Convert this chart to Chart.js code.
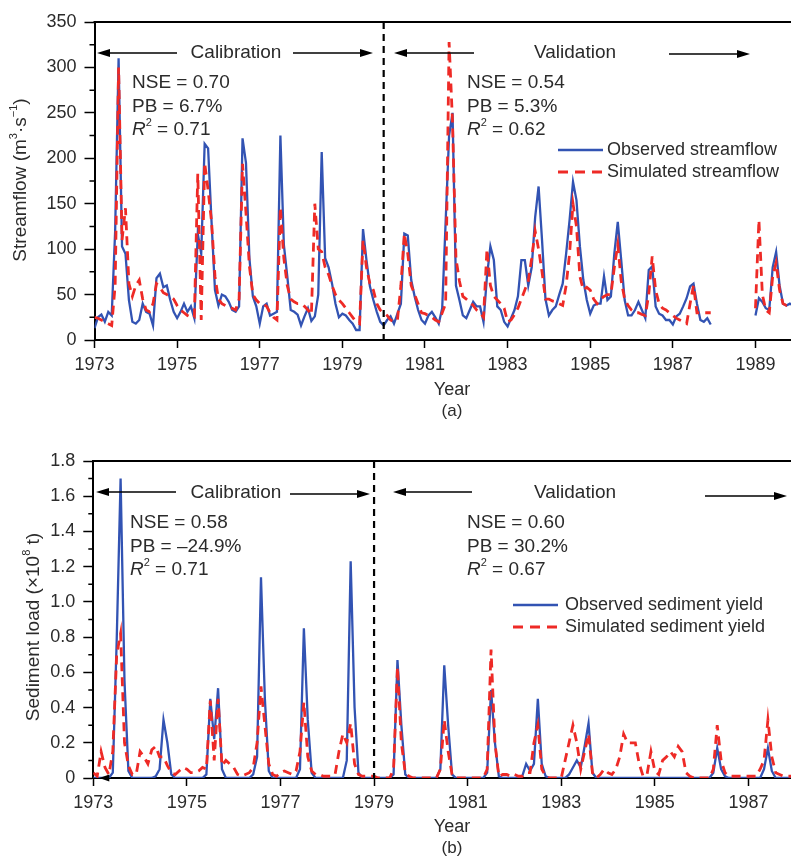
<!DOCTYPE html>
<html>
<head>
<meta charset="utf-8">
<script src="https://cdn.jsdelivr.net/npm/chart.js@4.4.1/dist/chart.umd.min.js"></script>
<style>
  html, body { margin: 0; padding: 0; background: #fff; }
  #wrap { position: relative; width: 791px; height: 860px; overflow: hidden; }
  .panel { position: absolute; left: 0; width: 791px; height: 430px; }
  #panelA { top: 0; }
  #panelB { top: 430px; }
</style>
</head>
<body>
<div id="wrap">
  <div class="panel" id="panelA"><canvas id="chartA" width="791" height="430"></canvas></div>
  <div class="panel" id="panelB"><canvas id="chartB" width="791" height="430"></canvas></div>
</div>
<script>
/* ---------- data (monthly values, Jan 1973 onwards) ---------- */
const FIRST_YEAR = 1973;

// streamflow, m3/s
const flowObserved = [
  13, 25, 28, 20, 31, 27, 120, 310, 103, 95, 44, 20,      // 1973
  18, 22, 40, 31, 29, 16, 68, 73, 58, 60, 44, 31,         // 1974
  24, 31, 40, 31, 37, 24, 117, 95, 216, 211, 130, 55,     // 1975
  38, 50, 48, 42, 33, 31, 37, 222, 195, 90, 48, 37,       // 1976
  18, 37, 40, 27, 29, 31, 225, 105, 70, 33, 31, 28,       // 1977
  16, 26, 35, 21, 26, 50, 207, 90, 80, 62, 40, 25,        // 1978
  29, 27, 22, 18, 11, 11, 122, 88, 59, 44, 31, 20,        // 1979
  16, 22, 26, 18, 29, 40, 117, 115, 66, 48, 33, 22,       // 1980
  18, 27, 31, 25, 18, 35, 130, 225, 250, 60, 44, 27,      // 1981
  24, 33, 42, 37, 37, 20, 70, 103, 88, 37, 33, 20,        // 1982
  15, 24, 33, 48, 88, 88, 60, 80, 135, 169, 110, 45,      // 1983
  27, 33, 37, 50, 62, 95, 132, 174, 154, 103, 66, 44,     // 1984
  29, 38, 40, 40, 70, 44, 48, 95, 130, 88, 44, 27,        // 1985
  27, 33, 42, 33, 24, 77, 81, 37, 29, 27, 22, 22,         // 1986
  17, 26, 29, 37, 46, 59, 62, 40, 22, 20, 24, 17,         // 1987
  null, null, null, null, null, null, null, null, null, null, null, null, // 1988
  27, 46, 42, 35, 33, 80, 97, 60, 40, 38, 40, 38          // 1989
];
const flowSimulated = [
  25, 24, 22, 20, 18, 16, 60, 300, 110, 145, 62, 48,      // 1973
  60, 66, 45, 33, 31, 40, 62, 58, 52, 50, 48, 45,         // 1974
  38, 33, 30, 27, 25, 25, 183, 22, 195, 165, 130, 70,     // 1975
  45, 40, 38, 36, 35, 33, 45, 194, 140, 81, 50, 44,       // 1976
  40, 40, 37, 30, 25, 22, 146, 90, 60, 45, 42, 40,        // 1977
  40, 37, 33, 28, 150, 100, 97, 80, 72, 60, 50, 44,       // 1978
  40, 35, 30, 25, 20, 18, 110, 80, 62, 55, 40, 33,        // 1979
  30, 27, 22, 20, 22, 60, 117, 95, 60, 50, 40, 30,        // 1980
  29, 27, 25, 22, 20, 30, 40, 328, 240, 90, 65, 48,       // 1981
  45, 42, 38, 33, 30, 25, 100, 60, 48, 44, 40, 35,        // 1982
  20, 22, 28, 35, 45, 55, 65, 90, 120, 100, 75, 45,       // 1983
  45, 43, 42, 40, 38, 60, 95, 150, 125, 70, 55, 58,       // 1984
  55, 45, 40, 45, 48, 50, 50, 80, 105, 65, 45, 38,        // 1985
  33, 30, 30, 28, 27, 50, 92, 55, 40, 35, 33, 30,         // 1986
  27, 24, 22, 20, 18, 40, 60, 30, 30, 30, 30, 30,         // 1987
  null, null, null, null, null, null, null, null, null, null, null, null, // 1988
  35, 132, 50, 33, 30, 70, 85, 55, 40, 38, 40, 40         // 1989
];

// sediment load, 10^8 t
const sedObserved = [
  0, 0, 0, 0, 0, 0.03, 0.78, 1.70, 0.55, 0.04, 0, 0,      // 1973
  0, 0, 0, 0, 0.01, 0.05, 0.33, 0.20, 0.02, 0, 0, 0,      // 1974
  0, 0, 0, 0, 0, 0.02, 0.45, 0.22, 0.51, 0.05, 0, 0,      // 1975
  0, 0, 0, 0, 0, 0.02, 0.12, 1.14, 0.45, 0.04, 0, 0,      // 1976
  0, 0, 0, 0, 0, 0.05, 0.85, 0.33, 0.03, 0, 0, 0,         // 1977
  0, 0, 0, 0, 0, 0.10, 1.23, 0.40, 0.03, 0, 0, 0,         // 1978
  0, 0, 0, 0, 0, 0.02, 0.67, 0.30, 0.02, 0, 0, 0,         // 1979
  0, 0, 0, 0, 0, 0.05, 0.64, 0.30, 0.02, 0, 0, 0,         // 1980
  0, 0, 0, 0, 0, 0.03, 0.50, 0.20, 0.01, 0, 0, 0,         // 1981
  0, 0, 0.01, 0.08, 0.04, 0.08, 0.45, 0.08, 0.01, 0, 0, 0, // 1982
  0, 0, 0.02, 0.06, 0.10, 0.06, 0.18, 0.31, 0.03, 0, 0, 0, // 1983
  0, 0, 0, 0, 0, 0, 0, 0, 0, 0, 0, 0,                     // 1984
  0, 0, 0, 0, 0, 0, 0, 0, 0, 0, 0, 0,                     // 1985
  0, 0, 0, 0.03, 0.17, 0.05, 0.01, 0, 0, 0, 0, 0,         // 1986
  0, 0, 0, 0, 0.05, 0.17, 0.04, 0, 0, 0, 0, 0             // 1987
];
const sedSimulated = [
  0.03, 0.01, 0.15, 0.06, 0.02, 0.15, 0.70, 0.82, 0.20, 0.07, 0.02, 0.02, // 1973
  0.15, 0.12, 0.08, 0.16, 0.18, 0.12, 0.12, 0.07, 0.03, 0.02, 0.04, 0.06, // 1974
  0.05, 0.03, 0.03, 0.04, 0.06, 0.05, 0.44, 0.10, 0.45, 0.07, 0.10, 0.08, // 1975
  0.06, 0.02, 0.01, 0.02, 0.03, 0.06, 0.20, 0.52, 0.30, 0.08, 0.02, 0.01, // 1976
  0.03, 0.04, 0.03, 0.02, 0.04, 0.15, 0.43, 0.12, 0.04, 0.02, 0.02, 0.01, // 1977
  0.01, 0.01, 0.02, 0.15, 0.25, 0.20, 0.31, 0.08, 0.02, 0.01, 0.01, 0.01, // 1978
  0.01, 0, 0, 0, 0, 0.05, 0.63, 0.20, 0.03, 0.01, 0, 0,                   // 1979
  0, 0, 0, 0, 0, 0.05, 0.33, 0.15, 0.02, 0, 0, 0,                         // 1980
  0, 0, 0, 0, 0, 0.05, 0.73, 0.20, 0.01, 0.02, 0.02, 0.01,                // 1981
  0.02, 0.01, 0.01, 0.03, 0.03, 0.20, 0.30, 0.05, 0.01, 0, 0, 0,          // 1982
  0, 0.10, 0.20, 0.30, 0.20, 0.05, 0.15, 0.25, 0.03, 0, 0.02, 0.05,       // 1983
  0.03, 0.02, 0.05, 0.12, 0.25, 0.20, 0.20, 0.20, 0.08, 0.01, 0.02, 0.15, // 1984
  0.04, 0.02, 0.10, 0.12, 0.15, 0.12, 0.18, 0.15, 0.03, 0.01, 0, 0,       // 1985
  0, 0, 0, 0.05, 0.30, 0.10, 0.03, 0.01, 0.01, 0.01, 0.01, 0.01,          // 1986
  0.01, 0.01, 0.01, 0.05, 0.10, 0.33, 0.12, 0.03, 0.02, 0.01, 0.01, 0.01  // 1987
];

// ticks
const flowYTicks = [0, 50, 100, 150, 200, 250, 300, 350];
const sedYTicks = [0, 0.2, 0.4, 0.6, 0.8, 1.0, 1.2, 1.4, 1.6, 1.8];
const flowYearTicks = [1973, 1975, 1977, 1979, 1981, 1983, 1985, 1987, 1989];
const sedYearTicks = [1973, 1975, 1977, 1979, 1981, 1983, 1985, 1987];

/* ---------- styling ---------- */
const FONT = '"Liberation Sans", Arial, sans-serif';
const TEXT = "#2b2b2b";
const BLUE = "#3253b3";
const RED = "#ee2a26";

const toPoints = arr => arr.map((v, i) => ({ x: FIRST_YEAR + i / 12, y: v }));

/* ---------- drawing helpers ---------- */
function fontFor(p, size) {
  const s = p.sup ? Math.round(size * 0.6) : size;
  return `${p.italic ? "italic " : ""}${s}px ${FONT}`;
}

// text made of pieces, some italic or superscript
function drawRich(ctx, parts, x, y, size, align) {
  let w = 0;
  parts.forEach(p => { ctx.font = fontFor(p, size); w += ctx.measureText(p.t).width; });
  let cx = align === "center" ? x - w / 2 : x;
  ctx.textAlign = "left";
  ctx.textBaseline = "middle";
  parts.forEach(p => {
    ctx.font = fontFor(p, size);
    ctx.fillText(p.t, cx, p.sup ? y - size * 0.36 : y);
    cx += ctx.measureText(p.t).width;
  });
}

function arrow(ctx, xFrom, xTo, y) {
  const dir = Math.sign(xTo - xFrom);
  ctx.save();
  ctx.strokeStyle = "#000";
  ctx.fillStyle = "#000";
  ctx.lineWidth = 1.6;
  ctx.beginPath();
  ctx.moveTo(xFrom, y);
  ctx.lineTo(xTo - dir * 8, y);
  ctx.stroke();
  ctx.beginPath();
  ctx.moveTo(xTo, y);
  ctx.lineTo(xTo - dir * 13, y - 4);
  ctx.lineTo(xTo - dir * 13, y + 4);
  ctx.closePath();
  ctx.fill();
  ctx.restore();
}

/* ---------- decoration plugin (frame, labels, legend) ---------- */
function decor(cfg) {
  return {
    id: "decor" + cfg.tag,
    afterDraw(chart) {
      const { ctx, chartArea: a, scales } = chart;
      ctx.save();

      // top frame line
      ctx.strokeStyle = "#000";
      ctx.lineWidth = 2;
      ctx.beginPath();
      ctx.moveTo(a.left - 1, a.top);
      ctx.lineTo(a.right, a.top);
      ctx.stroke();

      // minor y ticks
      ctx.lineWidth = 1.5;
      ctx.beginPath();
      for (let i = 0; i < cfg.yTicks.length - 1; i++) {
        const y = scales.y.getPixelForValue((cfg.yTicks[i] + cfg.yTicks[i + 1]) / 2);
        ctx.moveTo(a.left, y);
        ctx.lineTo(a.left - 5, y);
      }
      ctx.stroke();

      // calibration / validation split
      const xs = scales.x.getPixelForValue(cfg.split);
      ctx.setLineDash([7, 5]);
      ctx.lineWidth = 2.2;
      ctx.beginPath();
      ctx.moveTo(xs, a.top);
      ctx.lineTo(xs, a.bottom);
      ctx.stroke();
      ctx.setLineDash([]);

      // period labels + arrows
      ctx.fillStyle = TEXT;
      drawRich(ctx, [{ t: "Calibration" }], 236, cfg.periodY, 19, "center");
      drawRich(ctx, [{ t: "Validation" }], 575, cfg.periodY, 19, "center");
      cfg.arrows.forEach(r => arrow(ctx, r[0], r[1], r[2]));

      // statistics
      cfg.stats.forEach(s => {
        s.lines.forEach((ln, i) => {
          ctx.fillStyle = TEXT;
          drawRich(ctx, ln, s.x, s.y + i * 23.5, 19, "left");
        });
      });

      // legend
      const L = cfg.legend;
      ctx.lineWidth = 2.3;
      ctx.strokeStyle = BLUE;
      ctx.beginPath();
      ctx.moveTo(L.x1, L.y);
      ctx.lineTo(L.x2, L.y);
      ctx.stroke();
      ctx.strokeStyle = RED;
      ctx.lineWidth = 2.8;
      ctx.setLineDash([10, 7]);
      ctx.beginPath();
      ctx.moveTo(L.x1, L.y + 22);
      ctx.lineTo(L.x2, L.y + 22);
      ctx.stroke();
      ctx.setLineDash([]);
      ctx.fillStyle = TEXT;
      drawRich(ctx, [{ t: L.obs }], L.tx, L.y, 18, "left");
      drawRich(ctx, [{ t: L.sim }], L.tx, L.y + 22, 18, "left");

      // axis titles
      ctx.save();
      ctx.translate(cfg.yTitleX, cfg.yTitleY);
      ctx.rotate(-Math.PI / 2);
      drawRich(ctx, cfg.yTitle, 0, 0, 19, "center");
      ctx.restore();
      drawRich(ctx, [{ t: "Year" }], 452, cfg.yearY, 18, "center");
      drawRich(ctx, [{ t: cfg.tag }], 452, cfg.yearY + 21, 17, "center");

      if (cfg.cornerArrow) {
        ctx.fillStyle = "#000";
        ctx.beginPath();
        ctx.moveTo(a.left + 6, a.bottom);
        ctx.lineTo(a.left + 16, a.bottom - 3.5);
        ctx.lineTo(a.left + 16, a.bottom + 3.5);
        ctx.closePath();
        ctx.fill();
      }
      ctx.restore();
    }
  };
}

/* ---------- chart factory ---------- */
function makeChart(id, cfg) {
  return new Chart(document.getElementById(id), {
    type: "line",
    data: {
      datasets: [
        {
          label: cfg.legend.obs,
          data: toPoints(cfg.obs),
          borderColor: BLUE,
          borderWidth: 2.3,
          pointRadius: 0,
          tension: 0,
          spanGaps: false,
          order: 1
        },
        {
          label: cfg.legend.sim,
          data: toPoints(cfg.sim),
          borderColor: RED,
          borderWidth: 2.8,
          borderDash: [9, 6],
          pointRadius: 0,
          tension: 0,
          spanGaps: false,
          order: 0
        }
      ]
    },
    options: {
      responsive: false,
      animation: false,
      devicePixelRatio: 1,
      layout: { padding: { top: cfg.top, left: 0, right: 0, bottom: 0 } },
      plugins: { legend: { display: false }, tooltip: { enabled: false } },
      scales: {
        x: {
          type: "linear",
          min: FIRST_YEAR,
          max: cfg.xMax,
          afterBuildTicks: s => { s.ticks = cfg.xTicks.map(v => ({ value: v })); },
          afterFit: s => { s.height = cfg.xAxisHeight; },
          ticks: {
            callback: v => String(v),
            font: { family: FONT, size: 18 },
            color: TEXT,
            padding: 6,
            maxRotation: 0,
            autoSkip: false
          },
          grid: { drawOnChartArea: false, tickLength: 8, tickColor: "#000", tickWidth: 1.5 },
          border: { color: "#000", width: 2 }
        },
        y: {
          type: "linear",
          min: 0,
          max: cfg.yMax,
          afterBuildTicks: s => { s.ticks = cfg.yTicks.map(v => ({ value: v })); },
          afterFit: s => { s.width = cfg.left; },
          ticks: {
            callback: cfg.yLabel,
            font: { family: FONT, size: 18 },
            color: TEXT,
            padding: 8
          },
          grid: { drawOnChartArea: false, tickLength: 10, tickColor: "#000", tickWidth: 1.5 },
          border: { color: "#000", width: 2 }
        }
      }
    },
    plugins: [decor(cfg)]
  });
}

/* ---------- panel (a): streamflow ---------- */
makeChart("chartA", {
  tag: "(a)",
  obs: flowObserved,
  sim: flowSimulated,
  xMax: 1989.86,
  xTicks: flowYearTicks,
  yTicks: flowYTicks,
  yMax: 350,
  yLabel: v => String(v),
  top: 22,
  left: 94.5,
  xAxisHeight: 90,
  split: 1980,
  periodY: 53,
  arrows: [[177, 97, 53], [293, 373, 53], [474, 394, 53], [669, 750, 54]],
  stats: [
    { x: 132, y: 83, lines: [
      [{ t: "NSE = 0.70" }],
      [{ t: "PB = 6.7%" }],
      [{ t: "R", italic: true }, { t: "2", sup: true }, { t: " = 0.71" }]
    ] },
    { x: 467, y: 83, lines: [
      [{ t: "NSE = 0.54" }],
      [{ t: "PB = 5.3%" }],
      [{ t: "R", italic: true }, { t: "2", sup: true }, { t: " = 0.62" }]
    ] }
  ],
  legend: { x1: 558, x2: 603, tx: 607, y: 150, obs: "Observed streamflow", sim: "Simulated streamflow" },
  yTitle: [{ t: "Streamflow (m" }, { t: "3", sup: true }, { t: "·s" }, { t: "−1", sup: true }, { t: ")" }],
  yTitleX: 21,
  yTitleY: 180,
  yearY: 390,
  cornerArrow: false
});

/* ---------- panel (b): sediment load ---------- */
makeChart("chartB", {
  tag: "(b)",
  obs: sedObserved,
  sim: sedSimulated,
  xMax: 1987.91,
  xTicks: sedYearTicks,
  yTicks: sedYTicks,
  yMax: 1.8,
  yLabel: v => (v === 0 ? "0" : v.toFixed(1)),
  top: 31,
  left: 93.3,
  xAxisHeight: 82,
  split: 1979,
  periodY: 63,
  arrows: [[176, 96, 62], [290, 370, 64], [472, 393, 62], [705, 787, 66]],
  stats: [
    { x: 130, y: 93, lines: [
      [{ t: "NSE = 0.58" }],
      [{ t: "PB = \u201324.9%" }],
      [{ t: "R", italic: true }, { t: "2", sup: true }, { t: " = 0.71" }]
    ] },
    { x: 467, y: 93, lines: [
      [{ t: "NSE = 0.60" }],
      [{ t: "PB = 30.2%" }],
      [{ t: "R", italic: true }, { t: "2", sup: true }, { t: " = 0.67" }]
    ] }
  ],
  legend: { x1: 513, x2: 558, tx: 565, y: 175, obs: "Observed sediment yield", sim: "Simulated sediment yield" },
  yTitle: [{ t: "Sediment load (×10" }, { t: "8", sup: true }, { t: " t)" }],
  yTitleX: 34,
  yTitleY: 197,
  yearY: 397,
  cornerArrow: true
});
</script>
</body>
</html>
